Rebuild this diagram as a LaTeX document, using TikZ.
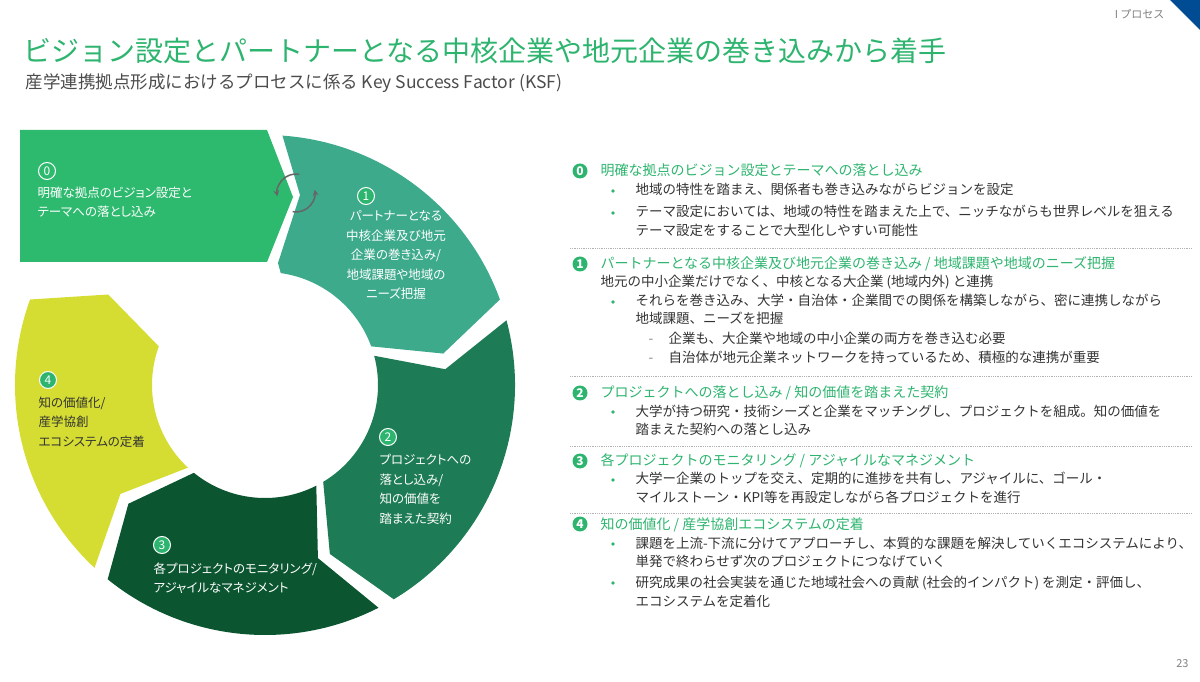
\documentclass[tikz,border=0pt]{standalone}
\usepackage{fontspec}
\setmainfont{Noto Sans CJK JP}
\newfontfamily\ringfont[RawFeature=+palt]{Noto Sans CJK JP}
\usetikzlibrary{calc,arrows.meta}
\definecolor{kgreen}{HTML}{2DB46E}
\definecolor{segA}{HTML}{2DBA6E}
\definecolor{segB}{HTML}{3DAA8C}
\definecolor{segC}{HTML}{1D7B55}
\definecolor{segD}{HTML}{0B5530}
\definecolor{segE}{HTML}{D5DD32}
\definecolor{txt}{HTML}{333333}
\tikzset{
  ringtxt/.style={anchor=north west,align=left,text=white,font=\ringfont\fontsize{12.5}{19.5}\selectfont},
  ringnum/.style={circle,draw=white,line width=1pt,fill=kgreen,text=white,inner sep=0pt,minimum size=17pt,font=\fontsize{12}{12}\selectfont},
  title/.style={anchor=base west,text=kgreen,font=\fontsize{14}{18}\selectfont},
  body/.style={anchor=base west,text=txt,font=\fontsize{13.5}{18}\selectfont},
  knum/.style={circle,fill=kgreen,text=white,inner sep=0pt,minimum size=15pt,font=\fontsize{12}{12}\selectfont\bfseries},
  sep/.style={draw=gray!60,densely dotted,line width=0.8pt},
  cyc/.style={gray!80!black,line width=1.5pt,-{Stealth[length=6pt,width=6pt]}}
}
\newcommand{\bul}[2]{\fill[kgreen] (613,#1+4) circle (1.8pt); \node[body] at (632,#1) {#2};}
\newcommand{\dsh}[2]{\node[body,text=gray] at (645,#1) {-}; \node[body] at (665,#1) {#2};}
\begin{document}
\begin{tikzpicture}[x=1pt,y=1pt]
\useasboundingbox (0,0) rectangle (1200,681);
\coordinate (O) at (265,296);
% header
\fill[blue!40!black!70!cyan] (1170,681) -- (1200,681) -- (1200,651) -- cycle;
\node[anchor=base east,text=gray,font=\fontsize{11}{11}\selectfont] (sec) at (1168,662) {I プロセス};
\node[anchor=base west,text=kgreen,font=\fontsize{28}{30}\selectfont] (ttl) at (20,619) {ビジョン設定とパートナーとなる中核企業や地元企業の巻き込みから着手};
\node[anchor=base west,text=black!70,font=\fontsize{17.5}{20}\selectfont] (sub) at (22,592) {産学連携拠点形成におけるプロセスに係る Key Success Factor (KSF)};
\node[anchor=base east,text=gray,font=\fontsize{11}{11}\selectfont] (pg) at (1192,14) {23};
% cycle
\fill[segA] (20,551) -- (267,551) -- (293,484) -- (267,419) -- (20,419) -- cycle;
\fill[segB] ($(O)+(86:250pt)$) arc[start angle=86,end angle=20,radius=250pt]
  -- ($(O)+(10:181pt)$) -- ($(O)+(20:113pt)$) arc[start angle=20,end angle=82,radius=113pt]
  -- (278,418) -- (300,486) -- cycle;
\foreach \a/\b/\c in {15/-59/segC,-63/-129/segD,-133/-200/segE}
  \fill[\c] ($(O)+(\a:250pt)$) arc[start angle=\a,end angle=\b,radius=250pt]
    -- ($(O)+(\b-10:181pt)$) -- ($(O)+(\b:113pt)$) arc[start angle=\b,end angle=\a,radius=113pt]
    -- ($(O)+(\a-10:181pt)$) -- cycle;
\coordinate (cy) at (296,488);
\draw[cyc] ($(cy)+(80:19pt)$) arc[start angle=80,end angle=190,radius=19pt];
\draw[cyc] ($(cy)+(260:19pt)$) arc[start angle=260,end angle=370,radius=19pt];
\node[ringnum,fill=none] (n0) at (47,510) {0};
\node[ringtxt] (t0) at (34,498) {明確な拠点のビジョン設定と\\テーマへの落とし込み};
\node[ringnum] (n1) at (366,485) {1};
\node[ringtxt,anchor=north,align=center] (t1) at (396,474) {パートナーとなる\\中核企業及び地元\\企業の巻き込み/\\地域課題や地域の\\ニーズ把握};
\node[ringnum] (n2) at (388,244) {2};
\node[ringtxt] (t2) at (376,230) {プロジェクトへの\\落とし込み/\\知の価値を\\踏まえた契約};
\node[ringnum] (n3) at (162,136) {3};
\node[ringtxt] (t3) at (150,122) {各プロジェクトのモニタリング/\\アジャイルなマネジメント};
\node[ringnum] (n4) at (48,301) {4};
\node[ringtxt,text=txt] (t4) at (35,288) {知の価値化/\\産学協創\\エコシステムの定着};
% right side
\node[knum] (k0) at (580,510) {0};
\node[title] (h0) at (597,505) {明確な拠点のビジョン設定とテーマへの落とし込み};
\bul{486}{地域の特性を踏まえ、関係者も巻き込みながらビジョンを設定}
\bul{464}{テーマ設定においては、地域の特性を踏まえた上で、ニッチながらも世界レベルを狙える}
\node[body] at (632,445) {テーマ設定をすることで大型化しやすい可能性};
\draw[sep] (570,433) -- (1192,433);
\node[knum] (k1) at (580,417) {1};
\node[title] (h1) at (597,412) {パートナーとなる中核企業及び地元企業の巻き込み / 地域課題や地域のニーズ把握};
\node[body] at (597,394) {地元の中小企業だけでなく、中核となる大企業 (地域内外) と連携};
\bul{375}{それらを巻き込み、大学・自治体・企業間での関係を構築しながら、密に連携しながら}
\node[body] at (632,357) {地域課題、ニーズを把握};
\dsh{337}{企業も、大企業や地域の中小企業の両方を巻き込む必要}
\dsh{318}{自治体が地元企業ネットワークを持っているため、積極的な連携が重要}
\draw[sep] (570,305) -- (1192,305);
\node[knum] (k2) at (580,288) {2};
\node[title] (h2) at (597,283) {プロジェクトへの落とし込み / 知の価値を踏まえた契約};
\bul{265}{大学が持つ研究・技術シーズと企業をマッチングし、プロジェクトを組成。知の価値を}
\node[body] at (632,246) {踏まえた契約への落とし込み};
\draw[sep] (570,235) -- (1192,235);
\node[knum] (k3) at (580,220) {3};
\node[title] (h3) at (597,215) {各プロジェクトのモニタリング / アジャイルなマネジメント};
\bul{197}{大学ー企業のトップを交え、定期的に進捗を共有し、アジャイルに、ゴール・}
\node[body] at (632,179) {マイルストーン・KPI等を再設定しながら各プロジェクトを進行};
\draw[sep] (570,168) -- (1192,168);
\node[knum] (k4) at (580,157) {4};
\node[title] (h4) at (597,152) {知の価値化 / 産学協創エコシステムの定着};
\bul{133}{課題を上流-下流に分けてアプローチし、本質的な課題を解決していくエコシステムにより、}
\node[body] at (632,115) {単発で終わらせず次のプロジェクトにつなげていく};
\bul{94}{研究成果の社会実装を通じた地域社会への貢献 (社会的インパクト) を測定・評価し、}
\node[body] at (632,75) {エコシステムを定着化};
\end{tikzpicture}
\end{document}
